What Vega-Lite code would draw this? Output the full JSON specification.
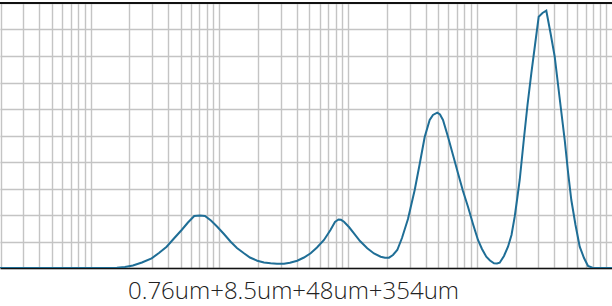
{
  "$schema": "https://vega.github.io/schema/vega-lite/v6.json",
  "width": 612,
  "height": 265,
  "autosize": "none",
  "padding": {"left": 0, "top": 3, "right": 0, "bottom": 38},
  "background": "white",
  "config": {"view": {"stroke": null}},
  "data": {"values": [
    {"x": 0.0198, "y": 0},
    {"x": 0.1413, "y": 0},
    {"x": 0.1602, "y": 0.011},
    {"x": 0.1848, "y": 0.038},
    {"x": 0.2133, "y": 0.094},
    {"x": 0.2505, "y": 0.208},
    {"x": 0.2979, "y": 0.366},
    {"x": 0.3396, "y": 0.566},
    {"x": 0.3897, "y": 0.804},
    {"x": 0.444, "y": 1.113},
    {"x": 0.5096, "y": 1.434},
    {"x": 0.5704, "y": 1.717},
    {"x": 0.6383, "y": 1.962},
    {"x": 0.7067, "y": 1.981},
    {"x": 0.7731, "y": 1.962},
    {"x": 0.8606, "y": 1.792},
    {"x": 0.9632, "y": 1.558},
    {"x": 1.0857, "y": 1.283},
    {"x": 1.224, "y": 0.992},
    {"x": 1.3696, "y": 0.755},
    {"x": 1.5527, "y": 0.555},
    {"x": 1.7288, "y": 0.396},
    {"x": 1.9702, "y": 0.275},
    {"x": 2.2205, "y": 0.208},
    {"x": 2.5026, "y": 0.177},
    {"x": 2.8027, "y": 0.162},
    {"x": 3.1755, "y": 0.162},
    {"x": 3.5343, "y": 0.196},
    {"x": 4.0272, "y": 0.275},
    {"x": 4.5415, "y": 0.396},
    {"x": 5.1181, "y": 0.555},
    {"x": 5.7304, "y": 0.774},
    {"x": 6.4939, "y": 1.057},
    {"x": 7.293, "y": 1.434},
    {"x": 7.9068, "y": 1.736},
    {"x": 8.414, "y": 1.83},
    {"x": 8.8003, "y": 1.819},
    {"x": 9.2867, "y": 1.747},
    {"x": 10.153, "y": 1.547},
    {"x": 11.103, "y": 1.309},
    {"x": 12.365, "y": 1.019},
    {"x": 14.083, "y": 0.743},
    {"x": 15.88, "y": 0.547},
    {"x": 17.896, "y": 0.426},
    {"x": 19.327, "y": 0.385},
    {"x": 20.766, "y": 0.389},
    {"x": 22.301, "y": 0.491},
    {"x": 24.085, "y": 0.679},
    {"x": 26.2, "y": 1.132},
    {"x": 29.163, "y": 1.849},
    {"x": 32.886, "y": 2.943},
    {"x": 35.838, "y": 3.887},
    {"x": 39.321, "y": 4.943},
    {"x": 42.994, "y": 5.585},
    {"x": 45.604, "y": 5.774},
    {"x": 49.256, "y": 5.86},
    {"x": 51.695, "y": 5.792},
    {"x": 54.545, "y": 5.585},
    {"x": 59.644, "y": 4.955},
    {"x": 65.235, "y": 4.264},
    {"x": 71.334, "y": 3.574},
    {"x": 77.983, "y": 2.906},
    {"x": 85.289, "y": 2.313},
    {"x": 93.267, "y": 1.66},
    {"x": 101.97, "y": 1.057},
    {"x": 109.55, "y": 0.717},
    {"x": 118.3, "y": 0.426},
    {"x": 126.39, "y": 0.283},
    {"x": 135.76, "y": 0.177},
    {"x": 143.24, "y": 0.17},
    {"x": 150.35, "y": 0.2},
    {"x": 162.33, "y": 0.453},
    {"x": 174.44, "y": 0.804},
    {"x": 185.68, "y": 1.245},
    {"x": 196.62, "y": 1.936},
    {"x": 204.89, "y": 2.566},
    {"x": 215.02, "y": 3.321},
    {"x": 232.12, "y": 4.906},
    {"x": 247.17, "y": 6.151},
    {"x": 264.64, "y": 7.347},
    {"x": 282.71, "y": 8.415},
    {"x": 302.01, "y": 9.483},
    {"x": 323.21, "y": 9.623},
    {"x": 345.94, "y": 9.709},
    {"x": 372.99, "y": 8.868},
    {"x": 402.09, "y": 7.974},
    {"x": 438.14, "y": 6.453},
    {"x": 480.94, "y": 4.83},
    {"x": 510.2, "y": 3.623},
    {"x": 541.16, "y": 2.566},
    {"x": 583.28, "y": 1.623},
    {"x": 628.67, "y": 0.804},
    {"x": 679.0, "y": 0.377},
    {"x": 729.42, "y": 0.075},
    {"x": 797.51, "y": 0},
    {"x": 1120, "y": 0}
  ]},
  "layer": [
    {
      "mark": {"type": "line", "color": "#1f6e96", "strokeWidth": 2, "clip": true},
      "encoding": {
        "x": {
          "field": "x", "type": "quantitative",
          "scale": {"type": "log", "domain": [0.0198, 1120], "nice": false},
          "axis": {
            "values": [0.02,0.03,0.04,0.05,0.06,0.07,0.08,0.09,0.1,0.2,0.3,0.4,0.5,0.6,0.7,0.8,0.9,1,2,3,4,5,6,7,8,9,10,20,30,40,50,60,70,80,90,100,200,300,400,500,600,700,800,900,1000],
            "tickCount": 100,
            "grid": true, "gridColor": "#c4c4c4", "gridWidth": 1.4,
            "labels": false, "ticks": false,
            "domain": true, "domainColor": "#111111", "domainWidth": 1.5,
            "title": "0.76um+8.5um+48um+354um",
            "titleFont": "Open Sans", "titleFontSize": 24, "titleFontWeight": 300,
            "titleColor": "#222222", "titlePadding": 11, "titleX": 293
          }
        },
        "y": {
          "field": "y", "type": "quantitative",
          "scale": {"domain": [0, 10], "nice": false, "zero": true},
          "axis": {
            "values": [0,1,2,3,4,5,6,7,8,9,10],
            "tickCount": 11,
            "grid": true, "gridColor": "#c4c4c4", "gridWidth": 1.4,
            "labels": false, "ticks": false, "domain": false, "title": null
          }
        }
      }
    },
    {
      "mark": {"type": "rule", "color": "#111111", "strokeWidth": 2},
      "encoding": {"y": {"datum": 10}}
    }
  ]
}
